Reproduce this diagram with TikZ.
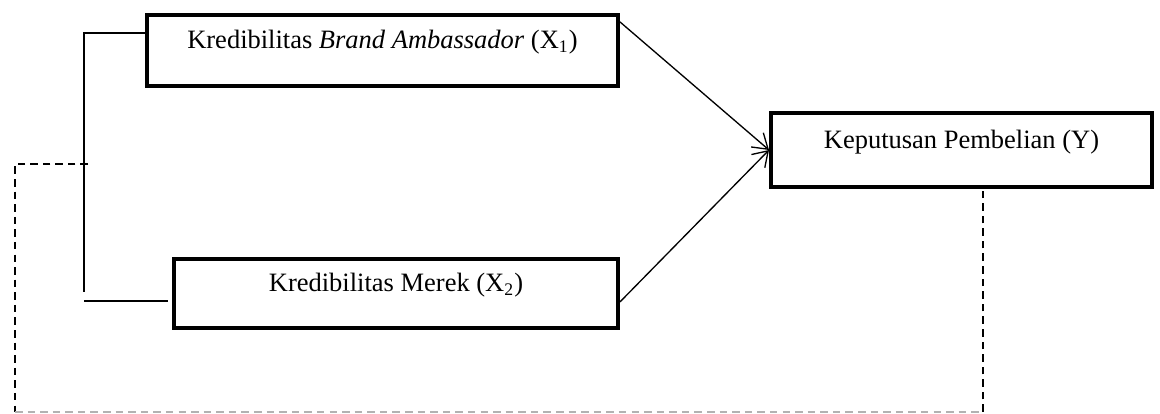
\documentclass[tikz,border=0pt]{standalone}
\usepackage{fontspec}
\setmainfont{Liberation Serif}
\usetikzlibrary{calc}
\usetikzlibrary{arrows.meta}
\tikzset{x=0.453pt,y=-0.453pt,
    varbox/.style={
        draw,
        line width=1.8pt,
        inner sep=0pt,
        text height=0.7em,
        text depth=0.85em,
        font=\fontsize{12}{14}\selectfont},
    brace/.style={
        draw,
        line width=0.75pt},
    feedback/.style={
        draw,
        line width=0.75pt,
        dash pattern=on 3.4pt off 2.3pt},
    every edge/.style={
        draw,
        -{Straight Barb[length=6.5pt,width=8.5pt]},
        line width=0.6pt}}
\begin{document}
\begin{tikzpicture}
        \useasboundingbox (0,0) rectangle (1160,414);

        \node[varbox,minimum width=213.4pt,minimum height=32.2pt] (x1) at (382.5,50.5)
            {Kredibilitas \textit{Brand Ambassador} (X\textsubscript{1})};
        \node[varbox,minimum width=201.1pt,minimum height=31.3pt] (x2) at (396,293.5)
            {Kredibilitas Merek (X\textsubscript{2})};
        \node[varbox,minimum width=172.6pt,minimum height=33.5pt] (y) at (961.5,150)
            {Keputusan Pembelian (Y)};

        \coordinate (top) at (84,33);
        \coordinate (bend) at (84,292);
        \coordinate (low) at (84,301);
        \coordinate (lowend) at (168,301);
        \coordinate (fb) at (88,164);
        \coordinate (fbleft) at (15,164);
        \coordinate (fbcorner) at (15,412);
        \coordinate (fbright) at (983,412);

        % bracket joining both variables
        \draw[brace] (top -| x1.west) -- (top) -- (bend);
        \draw[brace] (low) -- (lowend);

        % both variables to the decision
        \draw ($(x1.north east)+(0,9)$) edge (y.west);
        \draw ($(x2.north east)+(0,45)$) edge (y.west);

        % dashed line back from the decision
        \draw[feedback] (fb) -- (fbleft) -- (fbcorner);
        \draw[feedback,gray!60] (fbcorner) -- (fbright);
        \draw[feedback] (fbright) -- (fbright |- y.south);
    \end{tikzpicture}
\end{document}
